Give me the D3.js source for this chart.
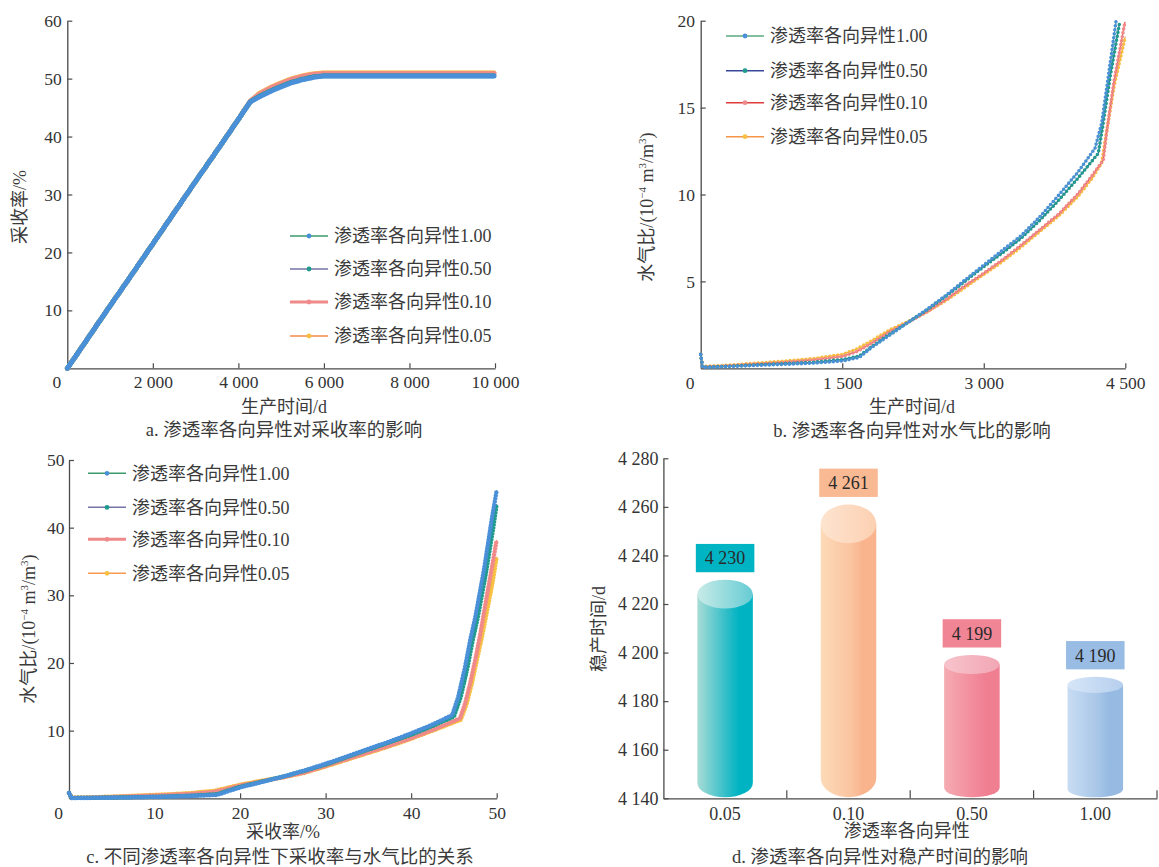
<!DOCTYPE html>
<html><head><meta charset="utf-8">
<script src="https://cdn.jsdelivr.net/npm/d3@7"></script>
<style>
html,body{margin:0;padding:0;background:#fff;}
svg text{font-family:'Liberation Serif','Times New Roman','DejaVu Serif','Noto Sans CJK SC';fill:#3a3a3a;}
</style></head>
<body>
<svg id="c" width="1159" height="867"></svg>
<script>
// ---------------- data ----------------
const legendLabels = ['渗透率各向异性1.00','渗透率各向异性0.50','渗透率各向异性0.10','渗透率各向异性0.05'];

// panel a : recovery (%) vs production time (d)
const aTime   = [0,500,1000,1500,2000,2500,3000,3500,4000,4276,4500,4750,5000,5250,5500,5750,6000,7000,8000,9000,10000];
const aRec100 = [0,5.4,10.8,16.1,21.5,26.9,32.3,37.6,43.0,46.0,46.9,47.8,48.6,49.3,49.8,50.2,50.45,50.45,50.45,50.45,50.45];
const aRec050 = [0,5.4,10.8,16.1,21.5,26.9,32.3,37.6,43.0,46.0,47.0,47.9,48.7,49.4,49.9,50.3,50.5,50.5,50.5,50.5,50.5];
const aRec010 = [0,5.4,10.8,16.1,21.5,26.9,32.3,37.6,43.0,46.1,47.4,48.4,49.2,49.9,50.4,50.75,50.9,50.9,50.9,50.9,50.9];
const aRec005 = [0,5.4,10.8,16.1,21.5,26.9,32.3,37.6,43.0,46.1,47.5,48.5,49.3,50.0,50.5,50.85,51.0,51.0,51.0,51.0,51.0];
const aXTicks = [0,2000,4000,6000,8000,10000];
const aYTicks = [10,20,30,40,50,60];

// panel b : water-gas ratio vs production time
const bT100 = [0,20,300,600,900,1200,1500,1680,1800,2000,2200,2400,2600,2800,3000,3200,3400,3600,3800,4000,4179,4250,4320,4401];
const bW100 = [0.8,0.05,0.1,0.17,0.23,0.3,0.42,0.62,1.15,1.9,2.65,3.4,4.2,5.08,5.94,6.8,7.65,8.75,10.0,11.3,12.66,14.1,16.8,19.94];
const bT050 = [0,20,300,600,900,1200,1500,1680,1800,2000,2200,2400,2600,2800,3000,3200,3400,3600,3800,4000,4214,4260,4340,4437];
const bW050 = [0.8,0.06,0.12,0.2,0.27,0.35,0.5,0.7,1.2,1.95,2.65,3.37,4.15,5.0,5.85,6.65,7.5,8.55,9.7,10.95,12.37,13.9,16.8,19.8];
const bT010 = [0,20,300,600,900,1200,1500,1650,1800,2000,2200,2400,2600,2800,3000,3200,3400,3600,3800,4000,4150,4267,4300,4380,4497];
const bW010 = [0.8,0.08,0.15,0.25,0.35,0.48,0.68,0.95,1.4,2.1,2.65,3.25,3.95,4.75,5.47,6.25,7.1,8.0,8.9,10.05,11.1,11.98,13.5,16.5,19.94];
const bT005 = [0,20,300,600,900,1200,1500,1650,1800,2000,2200,2400,2600,2800,3000,3200,3400,3600,3800,4000,4150,4250,4290,4380,4500];
const bW005 = [0.8,0.1,0.18,0.3,0.42,0.56,0.8,1.1,1.55,2.2,2.7,3.25,3.9,4.65,5.4,6.15,7.0,7.9,8.8,9.9,10.95,11.83,13.2,16.2,19.08];
const bXTicks = [0,1500,3000,4500];
const bYTicks = [5,10,15,20];

// panel c : water-gas ratio vs recovery
const cR100 = [0,0.3,2,5,8,11,14,17.3,18.5,20,22.5,25,27.5,30,32.5,35,37.5,40,42.5,44.8,45.5,46.3,46.9,47.5,48.5,49.4,50];
const cW100 = [0.8,0.05,0.05,0.1,0.15,0.22,0.32,0.5,1.0,1.6,2.4,3.2,4.1,5.1,6.2,7.3,8.4,9.6,10.9,12.3,15.0,19.4,23.4,26.8,33.7,41.1,45.5];
const cR050 = [0,0.3,2,5,8,11,14,17.3,18.5,20,22.5,25,27.5,30,32.5,35,37.5,40,42.5,45.0,45.8,46.6,47.2,47.8,48.8,49.6,50];
const cW050 = [0.8,0.06,0.07,0.12,0.18,0.26,0.38,0.6,1.1,1.7,2.45,3.2,4.05,5.0,6.1,7.2,8.3,9.4,10.7,12.1,15.0,19.4,23.4,26.8,33.7,40.0,43.5];
const cR010 = [0,0.3,2,5,8,11,14,17,18.5,20,22.5,25,27.5,30,32.5,35,37.5,40,42.5,45.7,46.3,46.9,47.5,48.1,48.9,49.5,50];
const cW010 = [0.8,0.08,0.1,0.2,0.33,0.47,0.65,0.95,1.4,1.9,2.5,3.1,3.8,4.8,5.8,6.8,7.8,8.9,10.1,11.8,14.0,17.0,20.5,24.4,30.3,34.5,38.2];
const cR005 = [0,0.3,2,5,8,11,14,17,18.5,20,22.5,25,27.5,30,32.5,35,37.5,40,42.5,45.8,46.5,47.1,47.7,48.3,49.0,49.6,50];
const cW005 = [0.8,0.1,0.12,0.25,0.4,0.55,0.75,1.1,1.55,2.0,2.6,3.1,3.75,4.7,5.7,6.7,7.7,8.8,10.0,11.6,14.0,17.0,20.5,24.0,28.5,32.5,35.7];
const cXTicks = [0,10,20,30,40,50];
const cYTicks = [10,20,30,40,50];

// panel d : stable production time
const dCats = ['0.05','0.10','0.50','1.00'];
const dVals = [4230,4261,4199,4190];
const dYTicks = [4140,4160,4180,4200,4220,4240,4260,4280];

// ---------------- styles ----------------
const markerColors = ['#4a90d9','#1f9a8c','#f08a8a','#f8c040'];
const lineColorsA = ['#3a9a6c','#7474a8','#f08a8a','#f58a4a'];
const lineColorsB = ['#5aa882','#37489a','#e03a3a','#f59548'];
const lineColorsC = ['#3a9a6c','#7474a8','#f08a8a','#f59a50'];
const barBody = [['#a8dcd6','#2bbcc8','#00b3c3'],['#fddab8','#fac4a0','#f9b48e'],['#f5abb2','#f28a9c','#f07f92'],['#c8ddf3','#a8c6e8','#96bae2']];
const barTop  = [['#c8ebe7','#66ccd4'],['#fde4cf','#fcd0b2'],['#f7c4cc','#f2a6b4'],['#d6e6f7','#b6cfee']];
const boxColors = ['#00b4c4','#f9b993','#f08595','#98bce4'];

const svg = d3.select('#c');
const fmt = d3.formatLocale({decimal:'.', thousands:' ', grouping:[3], currency:['','']}).format(',');
const AX = '#4a4a4a';

function styleAxis(g, fs){
  g.attr('font-family', null).attr('font-size', null);
  g.select('.domain').attr('stroke', AX).attr('stroke-width', 1.3);
  g.selectAll('.tick line').attr('stroke', AX).attr('stroke-width', 1.2);
  g.selectAll('.tick text').attr('font-size', fs).style('fill', '#333');
}

function linePanel(p){
  const x = d3.scaleLinear().domain(p.xd).range(p.xr);
  const y = d3.scaleLinear().domain(p.yd).range(p.yr);
  const g = svg.append('g');
  const gx = g.append('g').attr('transform', `translate(0,${p.yr[0]})`)
    .call(d3.axisBottom(x).tickValues(p.xt).tickSizeInner(-5).tickSizeOuter(0).tickPadding(p.xpad).tickFormat(fmt));
  styleAxis(gx, 17.5);
  gx.selectAll('.tick').filter(d => d === 0).select('line').remove();
  gx.selectAll('.tick text').filter(d => d === 0).attr('dx', -11);
  const gy = g.append('g').attr('transform', `translate(${p.xr[0]},0)`)
    .call(d3.axisLeft(y).tickValues(p.yt).tickSizeInner(-5).tickSizeOuter(0).tickPadding(p.ypad).tickFormat(fmt));
  styleAxis(gy, 17.5);
  const line = d3.line().x(d => x(d[0])).y(d => y(d[1]));
  for (let i = p.series.length - 1; i >= 0; i--){
    const s = p.series[i];
    const pts = s.x.map((v, k) => [v, s.y[k]]);
    g.append('path').attr('d', line(pts)).attr('fill','none')
      .attr('stroke', p.lineColors[i]).attr('stroke-width', 1.1);
    g.append('path').attr('d', line(pts)).attr('fill','none')
      .attr('stroke', markerColors[i]).attr('stroke-width', p.dot)
      .attr('stroke-linecap','round').attr('stroke-linejoin','round')
      .attr('stroke-dasharray', `0,${p.gap}`);
  }
  legendLabels.forEach((lab, i) => {
    const ly = p.leg.y[i];
    g.append('line').attr('x1', p.leg.x0).attr('x2', p.leg.x1).attr('y1', ly).attr('y2', ly)
      .attr('stroke', p.lineColors[i]).attr('stroke-width', (p.thick && i === 2) ? 3 : 1.6);
    g.append('circle').attr('cx', (p.leg.x0 + p.leg.x1) / 2).attr('cy', ly).attr('r', 2.4)
      .attr('fill', markerColors[i]);
    g.append('text').attr('x', p.leg.tx).attr('y', ly).attr('dy', '0.35em')
      .attr('font-size', 18).text(lab);
  });
  g.append('text').attr('x', p.xtitle[0]).attr('y', p.xtitle[1]).attr('dy','0.35em')
    .attr('text-anchor','middle').attr('font-size', 18).text(p.xtitle[2]);
  const yt = g.append('text').attr('transform', `translate(${p.ytitle[0]},${p.ytitle[1]}) rotate(-90)`)
    .attr('dy','0.35em').attr('text-anchor','middle').attr('font-size', 18);
  p.ytitle[2](yt);
  g.append('text').attr('x', p.cap[0]).attr('y', p.cap[1]).attr('dy','0.35em')
    .attr('text-anchor','middle').attr('font-size', 18.5).text(p.cap[2]);
}

function wgrTitle(t){
  t.append('tspan').text('水气比/(10');
  t.append('tspan').attr('font-size', 11).attr('dy', -7).text('−4');
  t.append('tspan').attr('dy', 7).text(' m');
  t.append('tspan').attr('font-size', 11).attr('dy', -7).text('3');
  t.append('tspan').attr('dy', 7).text('/m');
  t.append('tspan').attr('font-size', 11).attr('dy', -7).text('3');
  t.append('tspan').attr('dy', 7).text(')');
}

linePanel({
  xd:[0,10000], xr:[67.3,495], yd:[0,60], yr:[368.3,20.7], xt:aXTicks, yt:aYTicks, xpad:7, ypad:5.5,
  series:[{x:aTime,y:aRec100},{x:aTime,y:aRec050},{x:aTime,y:aRec010},{x:aTime,y:aRec005}],
  lineColors:lineColorsA, dot:5, gap:2, thick:true,
  leg:{x0:290, x1:328, tx:334, y:[236,269,302,336]},
  xtitle:[284,407,'生产时间/d'], ytitle:[20,207, t => t.text('采收率/%')],
  cap:[284,430,'a. 渗透率各向异性对采收率的影响']
});

linePanel({
  xd:[0,4500], xr:[700.7,1125.3], yd:[0,20], yr:[368.3,20.7], xt:bXTicks, yt:bYTicks, xpad:8.7, ypad:5.7,
  series:[{x:bT100,y:bW100},{x:bT050,y:bW050},{x:bT010,y:bW010},{x:bT005,y:bW005}],
  lineColors:lineColorsB, dot:3.6, gap:4, thick:false,
  leg:{x0:726, x1:764, tx:770, y:[36,70.7,102.7,136.7]},
  xtitle:[912,407,'生产时间/d'], ytitle:[647,207, wgrTitle],
  cap:[912,431,'b. 渗透率各向异性对水气比的影响']
});

linePanel({
  xd:[0,50], xr:[69,496.7], yd:[0,50], yr:[798.3,460], xt:cXTicks, yt:cYTicks, xpad:8, ypad:4.5,
  series:[{x:cR100,y:cW100},{x:cR050,y:cW050},{x:cR010,y:cW010},{x:cR005,y:cW005}],
  lineColors:lineColorsC, dot:4.5, gap:3, thick:true,
  leg:{x0:88, x1:126, tx:132, y:[473.3,507.3,539.3,573.3]},
  xtitle:[283,831.7,'采收率/%'], ytitle:[28.3,629, wgrTitle],
  cap:[280,856.7,'c. 不同渗透率各向异性下采收率与水气比的关系']
});

// ---------------- panel d ----------------
(function(){
  const x = d3.scaleBand().domain(dCats).range([663.4,1157]).paddingInner(0).paddingOuter(0);
  const y = d3.scaleLinear().domain([4140,4280]).range([798.3,458.3]);
  const g = svg.append('g');
  const defs = svg.append('defs');
  dCats.forEach((c, i) => {
    const gb = defs.append('linearGradient').attr('id','gb'+i).attr('x1',0).attr('x2',1).attr('y1',0).attr('y2',0);
    gb.append('stop').attr('offset','0%').attr('stop-color', barBody[i][0]);
    gb.append('stop').attr('offset','55%').attr('stop-color', barBody[i][1]);
    gb.append('stop').attr('offset','75%').attr('stop-color', barBody[i][2]);
    gb.append('stop').attr('offset','100%').attr('stop-color', barBody[i][2]);
    const gt = defs.append('linearGradient').attr('id','gt'+i).attr('x1',0).attr('x2',1).attr('y1',0).attr('y2',0);
    gt.append('stop').attr('offset','0%').attr('stop-color', barTop[i][0]);
    gt.append('stop').attr('offset','100%').attr('stop-color', barTop[i][1]);
  });
  const bw = x.bandwidth();
  const y0 = y(4140);
  dVals.forEach((v, i) => {
    const cx = x(dCats[i]) + bw / 2;
    const rx = bw * 0.45 / 2;
    const top = y(v);
    const ry = 0.066 * (y0 - top);
    const bot = y0 - 1 - ry;
    g.append('path')
      .attr('d', `M${cx-rx},${top+ry} L${cx-rx},${bot} A${rx},${ry} 0 0 0 ${cx+rx},${bot} L${cx+rx},${top+ry} Z`)
      .attr('fill', `url(#gb${i})`);
    g.append('ellipse').attr('cx', cx).attr('cy', top + ry).attr('rx', rx).attr('ry', ry)
      .attr('fill', `url(#gt${i})`);
    const boxW = rx * 2 + 3, boxH = 28.3;
    g.append('rect').attr('x', cx - boxW / 2).attr('y', top - 7.5 - boxH).attr('width', boxW).attr('height', boxH)
      .attr('fill', boxColors[i]);
    g.append('text').attr('x', cx).attr('y', top - 7.5 - boxH / 2).attr('dy','0.35em')
      .attr('text-anchor','middle').attr('font-size', 18).style('fill','#2a2a2a').text(fmt(v));
  });
  const gy = g.append('g').attr('transform', `translate(663.4,0)`)
    .call(d3.axisLeft(y).tickValues(dYTicks).tickSizeInner(-5).tickSizeOuter(0).tickPadding(5).tickFormat(fmt));
  styleAxis(gy, 18);
  const gx = g.append('g').attr('transform', `translate(0,${y0})`)
    .call(d3.axisBottom(x).tickSizeInner(0).tickSizeOuter(0).tickPadding(8.5));
  styleAxis(gx, 18);
  dCats.forEach(c => {
    const bx = x(c) + bw;
    gx.append('line').attr('x1', bx).attr('x2', bx).attr('y1', 0).attr('y2', -8)
      .attr('stroke', AX).attr('stroke-width', 1.2);
  });
  g.append('text').attr('transform','translate(598.5,629) rotate(-90)').attr('dy','0.35em')
    .attr('text-anchor','middle').attr('font-size', 18).text('稳产时间/d');
  g.append('text').attr('x', 906.8).attr('y', 830.7).attr('dy','0.35em')
    .attr('text-anchor','middle').attr('font-size', 18).text('渗透率各向异性');
  g.append('text').attr('x', 880).attr('y', 857).attr('dy','0.35em')
    .attr('text-anchor','middle').attr('font-size', 18.5).text('d. 渗透率各向异性对稳产时间的影响');
})();
</script>
</body></html>
